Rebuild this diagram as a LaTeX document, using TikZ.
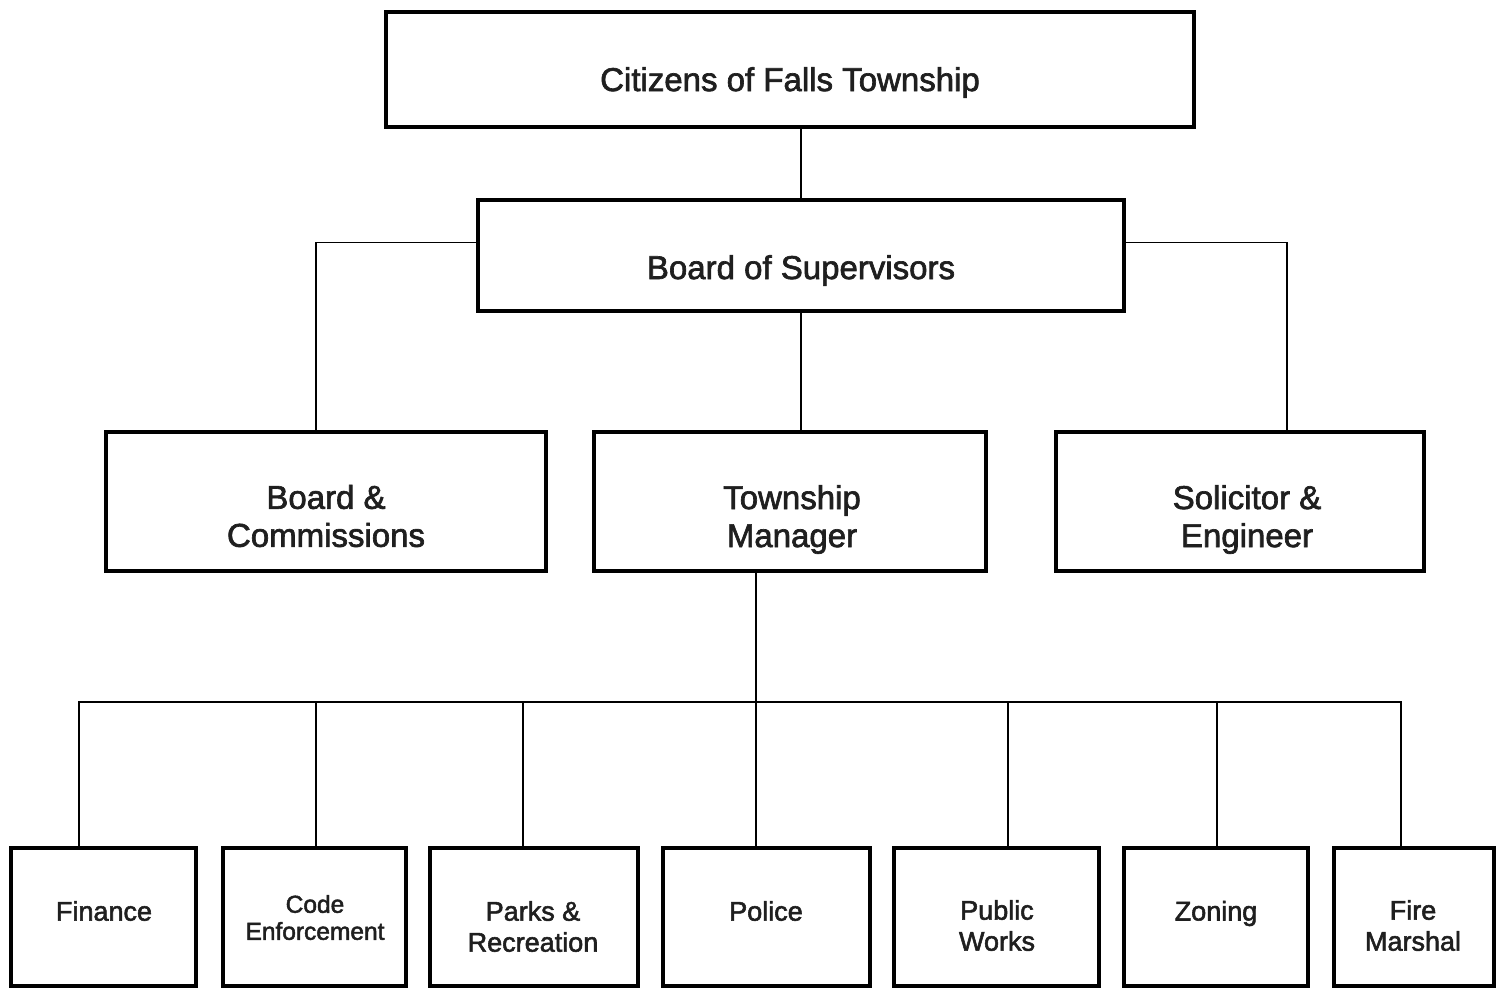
\documentclass[tikz,border=0pt]{standalone}
\usepackage{fontspec}
\setmainfont{Liberation Sans}[FakeBold=2]
\begin{document}
\begin{tikzpicture}[x=1pt,y=-1pt,
  box/.style={draw=black,line width=3.6pt,inner sep=0pt,outer sep=0pt,fill=white},
  conn/.style={draw=black,line width=1.6pt},
  big/.style={align=center,text=black!88,inner sep=0pt,font=\fontsize{33}{38}\selectfont},
  mid/.style={align=center,text=black!88,inner sep=0pt,font=\fontsize{27}{31}\selectfont},
  small/.style={align=center,text=black!88,inner sep=0pt,font=\fontsize{24.5}{27}\selectfont}]
\useasboundingbox (0,0) rectangle (1502,990);
% boxes
\node[box,minimum width=808pt,minimum height=115pt] (cit) at (790,69.5) {};
\node[box,minimum width=646pt,minimum height=111pt] (bos) at (801,255.5) {};
\node[box,minimum width=440pt,minimum height=139pt] (bc) at (326,501.5) {};
\node[box,minimum width=392pt,minimum height=139pt] (tm) at (790,501.5) {};
\node[box,minimum width=368pt,minimum height=139pt] (se) at (1240,501.5) {};
\node[box,minimum width=185pt,minimum height=138pt] (fin) at (103.5,917) {};
\node[box,minimum width=183pt,minimum height=138pt] (code) at (314.5,917) {};
\node[box,minimum width=208pt,minimum height=138pt] (parks) at (534,917) {};
\node[box,minimum width=207pt,minimum height=138pt] (police) at (766.5,917) {};
\node[box,minimum width=205pt,minimum height=138pt] (pw) at (996.5,917) {};
\node[box,minimum width=184pt,minimum height=138pt] (zon) at (1216,917) {};
\node[box,minimum width=160pt,minimum height=138pt] (fire) at (1414,917) {};
% labels
\node[big] (citT) at (790,82.5) {Citizens of Falls Township};
\node[big] (bosT) at (801,270.5) {Board of Supervisors};
\node[big] (bcT) at (326,516) {Board \&\\Commissions};
\node[big] (tmT) at (792,519.5) {Township\\Manager};
\node[big] (seT) at (1247,519.5) {Solicitor \&\\Engineer};
\node[mid] (finT) at (104,911) {Finance};
\node[small] (codeT) at (315,917.5) {Code\\Enforcement};
\node[mid] (parksT) at (533,926.5) {Parks \&\\Recreation};
\node[mid] (policeT) at (766,911) {Police};
\node[mid] (pwT) at (997,925.5) {Public\\Works};
\node[mid] (zonT) at (1216,913.5) {Zoning};
\node[mid] (fireT) at (1413,925.5) {Fire\\Marshal};
% connectors
\coordinate (bus) at (756,702);
\draw[conn] (bos.north) -- (bos.north |- cit.south);
\draw[conn] ([yshift=13pt]bos.west) -| ([xshift=-10pt]bc.north);
\draw[conn] ([yshift=13pt]bos.east) -| ([xshift=47pt]se.north);
\draw[conn] (bos.south) -- (bos.south |- tm.north);
\draw[conn] ([xshift=-34pt]tm.south) -- (bus);
\draw[conn] ([xshift=-24.5pt]fin.north) |- (bus);
\draw[conn] ([xshift=1.5pt]code.north) |- (bus);
\draw[conn] ([xshift=-11pt]parks.north) |- (bus);
\draw[conn] ([xshift=-10.5pt]police.north) |- (bus);
\draw[conn] ([xshift=11.5pt]pw.north) |- (bus);
\draw[conn] ([xshift=1pt]zon.north) |- (bus);
\draw[conn] ([xshift=-13pt]fire.north) |- (bus);
\end{tikzpicture}
\end{document}
